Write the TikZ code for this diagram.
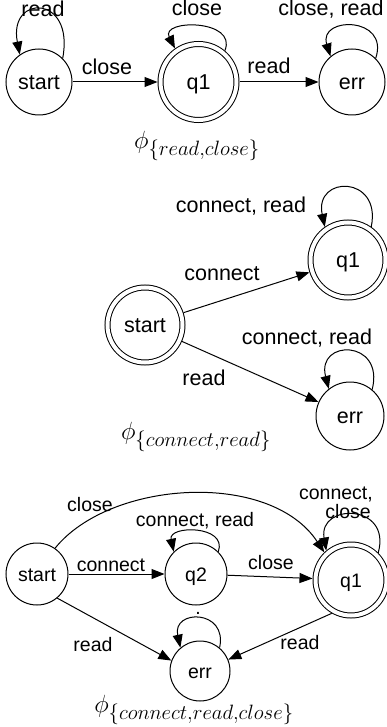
\documentclass[tikz,border=0pt]{standalone}
\usepackage{fontspec}
\setmainfont{Liberation Sans}
\usetikzlibrary{arrows.meta}
\begin{document}
\begin{tikzpicture}[x=1pt,y=-1pt,
  every node/.style={inner sep=0pt},
  big/.style={font=\fontsize{21.5}{26}\selectfont},
  small/.style={font=\fontsize{19.5}{23}\selectfont},
  st/.style={circle, draw, line width=1pt, text depth=0pt},
  bst/.style={st, big, text height=15.6pt},
  sst/.style={st, small, text height=14pt},
  acc/.style={double, double distance=4pt, outer sep=3pt},
  edge/.style={line width=1pt, -{Triangle[length=13pt,width=10pt]}},
  lab/.style={anchor=base},
  phil/.style={font=\fontsize{30}{36}\selectfont},
  phib/.style={font=\fontsize{32}{38}\selectfont}
]
\useasboundingbox (0,0) rectangle (387,727);

% ---------- top: phi_{read,close}
\node[bst, minimum size=66pt] (s1) at (39,82) {start};
\node[bst, acc, minimum size=76pt] (q1a) at (198.5,82) {q1};
\node[bst, minimum size=66pt] (e1) at (352,82) {err};
\draw[edge] (s1) -- (q1a);
\draw[edge] (q1a) -- (e1);
\draw[edge] (s1.45) .. controls (75,-6) and (8,-6) .. (s1.125);
\draw[edge] (q1a.50) .. controls (238,19) and (160,19) .. (q1a.125);
\draw[edge] (e1.45) .. controls (390,16) and (318,16) .. (e1.130);
\node[lab, big] (l1) at (43,17) {read};
\node[lab, big] (l2) at (197,16) {close};
\node[lab, big] (l3) at (331,16) {close, read};
\node[lab, big] (l4) at (107,75) {close};
\node[lab, big] (l5) at (269,74) {read};
\node[phil] (p1) at (197,146) {$\phi_{\{read,close\}}$};

% ---------- middle: phi_{connect,read}
\node[bst, acc, minimum size=75pt] (s2) at (145,325) {start};
\node[bst, acc, minimum size=75pt] (q1b) at (348,260) {q1};
\node[bst, minimum size=68pt] (e2) at (350,416) {err};
\draw[edge] (s2) -- (q1b);
\draw[edge] (s2) -- (e2);
\draw[edge] (q1b.55) .. controls (382,175) and (314,175) .. (q1b.125);
\draw[edge] (e2.50) .. controls (385,339) and (316,339) .. (e2.128);
\node[lab, big] (m1) at (241,212) {connect, read};
\node[lab, big] (m2) at (222,280) {connect};
\node[lab, big] (m3) at (307,344) {connect, read};
\node[lab, big] (m4) at (204,385) {read};
\node[phil] (p2) at (196,437) {$\phi_{\{connect,read\}}$};

% ---------- bottom: phi_{connect,read,close}
\node[sst, minimum size=62pt] (s3) at (37,574) {start};
\node[sst, minimum size=62pt] (q2) at (196,574) {q2};
\node[sst, acc, minimum size=71pt] (q1c) at (351,580) {q1};
\node[sst, minimum size=60pt] (e3) at (200,671) {err};
\draw[edge] (s3) -- (q2);
\draw[edge] (q2) -- (q1c);
\draw[edge] (s3.55) .. controls (110,480) and (270,470) .. (q1c.134);
\draw[edge] (s3.-50) -- (e3.160);
\draw[edge] (q1c.-120) -- (e3.22);
\draw[edge] (q2.45) .. controls (228,525) and (168,525) .. (q2.135);
\draw[edge] (e3.50) .. controls (228,609) and (172,609) .. (e3.130);
\draw[edge] (q1c.45) .. controls (392,503) and (318,503) .. (q1c.130);
\node[lab, small] (b1) at (90,511) {close};
\node[lab, small] (b2) at (195,526) {connect, read};
\node[lab, small, anchor=base east] (b3) at (373,499) {connect,};
\node[lab, small, anchor=base east] (b4) at (371,518) {close};
\node[lab, small] (b5) at (111,571) {connect};
\node[lab, small] (b6) at (271,569) {close};
\node[lab, small] (b7) at (93,651) {read};
\node[lab, small] (b8) at (300,649) {read};
\node[lab, small] (b9) at (198,614) {.};
\node[phib] (p3) at (194,710) {$\phi_{\{connect,read,close\}}$};
\end{tikzpicture}
\end{document}
